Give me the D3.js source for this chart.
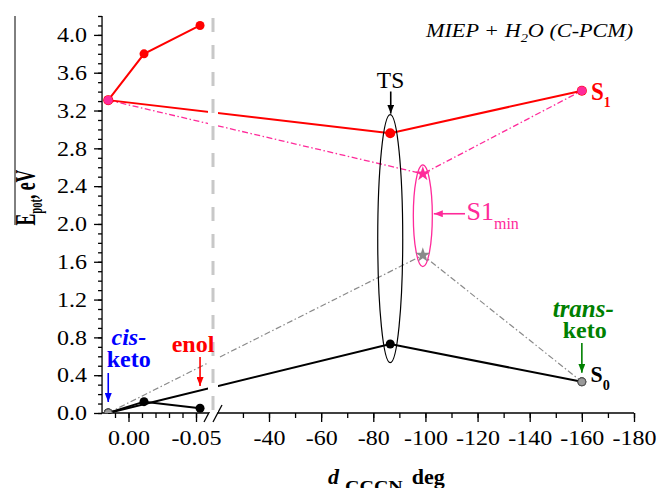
<!DOCTYPE html>
<html>
<head>
<meta charset="utf-8">
<script src="https://cdnjs.cloudflare.com/ajax/libs/d3/7.8.5/d3.min.js"></script>
<style>
body { margin: 0; background: #fff; }
svg { display: block; font-family: "Liberation Serif", "Times New Roman", serif; }
</style>
</head>
<body>
<script>
// 数据：左段为小角度扫描，右段为路径点（断轴）
var scanAngle = [0.015, -0.0115, -0.053];
var scanS0 = [0.00, 0.12, 0.05];
var scanS1 = [3.31, 3.80, 4.10];
var pathAngle = [0.015, -86.5, -160];
var pathS0 = [0.00, 0.73, 0.33];
var pathS1 = [3.31, 2.96, 3.41];
var minAngle = [0.015, -99, -160];
var minS1 = [3.31, 2.53, 3.41];
var minS0 = [0.00, 1.67, 0.33];
var yTicks = [0.0, 0.4, 0.8, 1.2, 1.6, 2.0, 2.4, 2.8, 3.2, 3.6, 4.0];
var xLeftTicks = [0.00, -0.05];
var xRightTicks = [-40, -60, -80, -100, -120, -140, -160, -180];

var width = 661, height = 488;
var RED = "#ff0000", PINK = "#ff2a9a", GRAY = "#8a8a8a", BLUE = "#0000ff", GREEN = "#008000";

var svg = d3.select("body").append("svg")
    .attr("width", width)
    .attr("height", height);

// 比例尺
var y = d3.scaleLinear().domain([0, 4.2]).range([413, 16]);
var xL = d3.scaleLinear().domain([0, -0.05]).range([128.5, 196]);
var xR = d3.scaleLinear().domain([-40, -180]).range([269, 634]);
var xBreak = 213;
function x(v) { return v > -1 ? xL(v) : xR(v); }
var x0 = xL(0.0196);

function zip(a, b) { return a.map(function(d, i) { return [d, b[i]]; }); }

// 箭头
var defs = svg.append("defs");
[["red", RED], ["pink", PINK], ["black", "#000"], ["blue", BLUE], ["green", GREEN]].forEach(function(c) {
  defs.append("marker")
      .attr("id", "arr-" + c[0])
      .attr("viewBox", "0 0 10 10")
      .attr("refX", 10).attr("refY", 5)
      .attr("markerUnits", "userSpaceOnUse")
      .attr("markerWidth", 9).attr("markerHeight", 7)
      .attr("preserveAspectRatio", "none")
      .attr("orient", "auto")
    .append("path")
      .attr("d", "M0,0L10,5L0,10Z")
      .attr("fill", c[1]);
});
defs.append("clipPath").attr("id", "plot")
  .append("rect").attr("x", 90).attr("y", 0).attr("width", 560).attr("height", y(0));

// 左边那条竖线
svg.append("line").attr("x1", 15).attr("x2", 15).attr("y1", 16).attr("y2", 225)
    .attr("stroke", "#000").attr("stroke-width", 1);

// Y 轴
var gy = svg.append("g").attr("transform", "translate(" + x0 + ",0)");
gy.append("g").call(d3.axisLeft(y).tickValues(d3.range(0, 43).map(function(i) { return i / 10; }))
    .tickSize(4).tickFormat(""));
gy.append("g").call(d3.axisLeft(y).tickValues(yTicks).tickSize(8).tickFormat(d3.format(".1f")));
gy.selectAll(".domain").remove();
gy.append("line").attr("y1", y(0)).attr("y2", y(4.2)).attr("stroke", "#000").attr("stroke-width", 1.3);

// X 轴（两段）
var gx = svg.append("g").attr("transform", "translate(0," + y(0) + ")");
gx.append("g").call(d3.axisBottom(xL).tickValues(d3.range(1, -6, -1).map(function(i) { return i / 100; }))
    .tickSize(5).tickFormat(""));
gx.append("g").call(d3.axisBottom(xL).tickValues(xLeftTicks).tickSize(9)
    .tickFormat(function(d) { return d3.format(".2f")(d).replace("\u2212", "-"); }));
gx.append("g").call(d3.axisBottom(xR).tickValues(d3.range(-30, -181, -10)).tickSize(5).tickFormat(""));
gx.append("g").call(d3.axisBottom(xR).tickValues(xRightTicks).tickSize(9)
    .tickFormat(function(d) { return String(d); }));
gx.selectAll(".domain").remove();
gx.append("line").attr("x1", x0).attr("x2", 208.5).attr("stroke", "#000").attr("stroke-width", 1.3);
gx.append("line").attr("x1", 217.5).attr("x2", xR(-180)).attr("stroke", "#000").attr("stroke-width", 1.3);
[208.5, 217.5].forEach(function(c) {
  gx.append("line").attr("x1", c - 4.5).attr("y1", 9).attr("x2", c + 4.5).attr("y2", -8)
      .attr("stroke", "#000").attr("stroke-width", 1.3);
});

svg.selectAll(".tick line").attr("stroke", "#000").attr("stroke-width", 1.3);
gy.selectAll(".tick text").attr("font-size", 20).attr("fill", "#000")
    .attr("font-family", "Liberation Serif, Times New Roman, serif")
    .attr("x", -15 / 1.2).attr("dy", "0.34em").attr("transform", "scale(1.2,1)");
gx.selectAll(".tick text").attr("font-size", 20).attr("fill", "#000")
    .attr("font-family", "Liberation Serif, Times New Roman, serif")
    .attr("y", 18).attr("transform", "scale(1.2,1)");

// 曲线
var line = d3.line().x(function(d) { return x(d[0]); }).y(function(d) { return y(d[1]); });
var lines = svg.append("g").attr("fill", "none");
lines.append("path").attr("d", line(zip(minAngle, minS0)))
    .attr("stroke", GRAY).attr("stroke-width", 1.2).attr("stroke-dasharray", "6,2.5,1.5,2.5");
lines.append("path").attr("d", line(zip(minAngle, minS1)))
    .attr("stroke", PINK).attr("stroke-width", 1.3).attr("stroke-dasharray", "6,2.5,1.5,2.5");
lines.append("path").attr("d", line(zip(scanAngle, scanS0))).attr("stroke", "#000").attr("stroke-width", 2);
lines.append("path").attr("d", line(zip(scanAngle, scanS1))).attr("stroke", RED).attr("stroke-width", 2);
lines.append("path").attr("d", line(zip(pathAngle, pathS0))).attr("stroke", "#000").attr("stroke-width", 2);
lines.append("path").attr("d", line(zip(pathAngle, pathS1))).attr("stroke", RED).attr("stroke-width", 2);

// 断轴处的空白和灰色虚线
svg.append("line").attr("x1", xBreak).attr("x2", xBreak).attr("y1", y(4.2)).attr("y2", y(0) - 1)
    .attr("stroke", "#fff").attr("stroke-width", 10);
svg.append("line").attr("x1", xBreak).attr("x2", xBreak).attr("y1", 18).attr("y2", y(0))
    .attr("stroke", "#c8c8c8").attr("stroke-width", 3).attr("stroke-dasharray", "14,13");

// 椭圆
var tsTop = y(pathS1[1]) - 18.6, tsBot = y(pathS0[1]) + 18.7;
svg.append("ellipse").attr("cx", x(pathAngle[1])).attr("cy", (tsTop + tsBot) / 2)
    .attr("rx", 12.5).attr("ry", (tsBot - tsTop) / 2)
    .attr("fill", "none").attr("stroke", "#000").attr("stroke-width", 1.2);
var mTop = y(minS1[1]) - 9, mBot = y(minS0[1]) + 11.5;
svg.append("ellipse").attr("cx", x(minAngle[1])).attr("cy", (mTop + mBot) / 2)
    .attr("rx", 9.5).attr("ry", (mBot - mTop) / 2)
    .attr("fill", "none").attr("stroke", PINK).attr("stroke-width", 1.3);

// 点
var dots = svg.append("g").attr("clip-path", "url(#plot)");
function circles(ax, vals, r, fill, stroke) {
  dots.selectAll(null).data(zip(ax, vals)).enter().append("circle")
      .attr("cx", function(d) { return x(d[0]); })
      .attr("cy", function(d) { return y(d[1]); })
      .attr("r", r).attr("fill", fill)
      .attr("stroke", stroke || "none").attr("stroke-width", 1);
}
circles(scanAngle, scanS1, 4.5, RED);
circles(scanAngle, scanS0, 4.5, "#000");
circles(pathAngle, pathS1, 5, RED);
circles(pathAngle, pathS0, 4.5, "#000");
circles([minAngle[0], minAngle[2]], [minS1[0], minS1[2]], 4.5, PINK);
circles([minAngle[0], minAngle[2]], [minS0[0], minS0[2]], 4, "#9a9a9a", "#555");
var star = d3.symbol().type(d3.symbolStar).size(70);
dots.append("path").attr("d", star)
    .attr("transform", "translate(" + x(minAngle[1]) + "," + y(minS1[1]) + ")").attr("fill", PINK);
dots.append("path").attr("d", star)
    .attr("transform", "translate(" + x(minAngle[1]) + "," + y(minS0[1]) + ")").attr("fill", GRAY);

// 箭头
function arrow(x1, y1, x2, y2, color, name) {
  svg.append("line").attr("x1", x1).attr("y1", y1).attr("x2", x2).attr("y2", y2)
      .attr("stroke", color).attr("stroke-width", 1.6).attr("marker-end", "url(#arr-" + name + ")");
}
arrow(x(pathAngle[0]), 373, x(pathAngle[0]), y(0) - 11, BLUE, "blue");
arrow(x(scanAngle[2]), 357, x(scanAngle[2]), 386, RED, "red");
arrow(x(pathAngle[1]) + 0.5, 91.5, x(pathAngle[1]) + 0.5, tsTop - 1, "#000", "black");
arrow(x(pathAngle[2]), 343, x(pathAngle[2]), y(pathS0[2]) - 9, GREEN, "green");
arrow(465, (mTop + mBot) / 2 - 2, x(minAngle[1]) + 11, (mTop + mBot) / 2 - 2, PINK, "pink");

// 文字
function txt(px, py, o) {
  var t = svg.append("text")
      .attr("transform", "translate(" + px + "," + py + ") scale(" + (o.sx || 1) + ",1)")
      .attr("font-size", o.size)
      .attr("fill", o.fill || "#000")
      .attr("font-weight", o.bold ? "bold" : "normal")
      .attr("font-style", o.italic ? "italic" : "normal")
      .attr("text-anchor", o.anchor || "start");
  if (o.text) t.text(o.text);
  return t;
}

var title = txt(426, 37, {size: 18.5, sx: 1.2, italic: true});
title.append("tspan").text("MIEP + H");
title.append("tspan").attr("font-size", 12).attr("dy", 5).text("2");
title.append("tspan").attr("dy", -5).text("O (C-PCM)");

txt(390.5, 88, {size: 23.5, anchor: "middle", text: "TS"});

var s1 = txt(591, 99.5, {size: 25, sx: 0.92, bold: true, fill: RED});
s1.append("tspan").text("S");
s1.append("tspan").attr("font-size", 15).attr("dy", 7).text("1");

var s0 = txt(590.5, 381.7, {size: 23, sx: 0.95, bold: true});
s0.append("tspan").text("S");
s0.append("tspan").attr("font-size", 15).attr("dy", 8.5).text("0");

var smin = txt(466.5, 220, {size: 26, fill: PINK});
smin.append("tspan").text("S1");
smin.append("tspan").attr("font-size", 16).attr("dy", 8.5).text("min");

txt(111.5, 345, {size: 24, bold: true, italic: true, fill: BLUE, text: "cis-"});
txt(106.7, 366.7, {size: 24, bold: true, fill: BLUE, text: "keto"});
txt(171.7, 351.7, {size: 24, bold: true, fill: RED, text: "enol"});
txt(552.7, 316.7, {size: 25, bold: true, italic: true, fill: GREEN, text: "trans-"});
txt(562.7, 338.3, {size: 24, bold: true, fill: GREEN, text: "keto"});

// 坐标轴标题
txt(328, 484, {size: 22, bold: true, italic: true, text: "d"});
txt(345, 492, {size: 16, sx: 1.25, bold: true, text: "CCCN,"});
txt(411.7, 484, {size: 22, bold: true, text: "deg"});

var yl = svg.append("text")
    .attr("transform", "translate(35,225.5) rotate(-90) scale(0.68,1.15)")
    .attr("font-size", 26).attr("font-weight", "bold");
yl.append("tspan").text("E");
yl.append("tspan").attr("font-size", 15.5).attr("dy", 6).text("pot");
yl.append("tspan").attr("dy", -6).text(", eV");

window.addEventListener('unload', function () {
    document.documentElement.innerHTML = '';
});
</script>
</body>
</html>
